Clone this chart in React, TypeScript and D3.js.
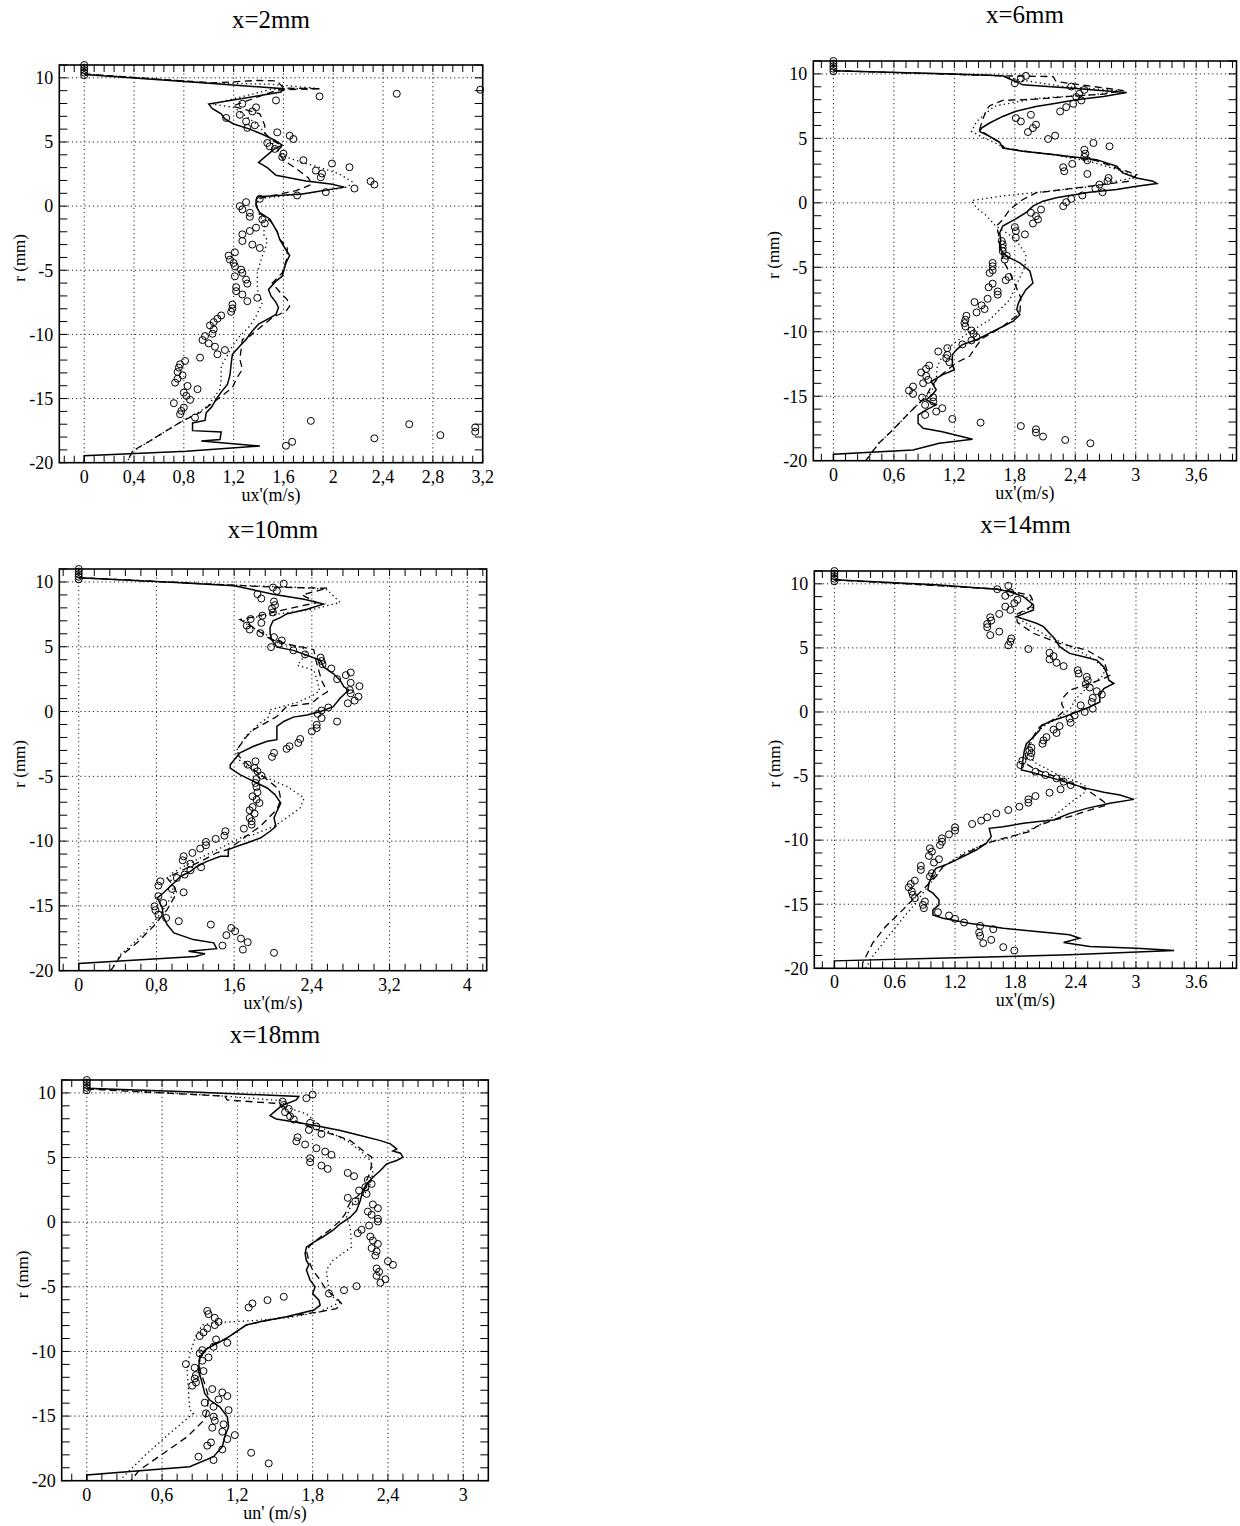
import React from "react";
import * as d3 from "d3";

type Pt = [number, number];

// ---------- x = 2 mm ----------
const P1_SOLID: Pt[] = [[0,10.25],[1.03,9.55],[1.6,9.15],[1.58,8.9],[1.0,7.95],[1.03,7.6],[1.1,7.2],[1.13,6.8],[1.2,6.4],[1.33,6.0],[1.43,5.6],[1.53,5.15],[1.59,4.75],[1.52,4.4],[1.4,3.4],[1.47,3.0],[1.54,2.4],[1.78,1.95],[1.98,1.72],[2.09,1.48],[1.75,0.95],[1.4,0.73],[1.38,0.5],[1.38,0],[1.41,-0.5],[1.49,-1.0],[1.52,-1.5],[1.55,-2.0],[1.57,-2.6],[1.62,-3.4],[1.65,-3.86],[1.62,-4.43],[1.59,-5.47],[1.54,-5.85],[1.48,-6.5],[1.5,-7.0],[1.54,-7.5],[1.56,-7.9],[1.54,-8.45],[1.47,-8.83],[1.4,-9.2],[1.35,-9.74],[1.3,-10.4],[1.25,-10.9],[1.19,-11.55],[1.18,-12.3],[1.17,-13.2],[1.15,-13.9],[1.1,-14.5],[1.06,-15.05],[1.02,-15.7],[0.98,-16.1],[0.97,-16.7],[0.87,-16.9],[0.87,-17.5],[1.1,-17.6],[1.09,-18.2],[0.94,-18.3],[1.41,-18.7],[0.82,-19.1],[0,-19.45],[0,-20]];
const P1_DASHED: Pt[] = [[0,10.3],[1.03,9.6],[1.4,9.8],[1.55,9.75],[1.6,9.2],[1.9,9.15],[1.55,9.05],[1.19,7.8],[1.41,7.2],[1.45,6.3],[1.45,5.7],[1.5,5.2],[1.59,4.7],[1.55,4.3],[1.6,3.6],[1.72,2.8],[1.8,2.2],[1.83,1.7],[1.7,1.2],[1.4,0.6],[1.38,0.2],[1.4,-0.5],[1.5,-1.2],[1.55,-2.0],[1.57,-2.6],[1.63,-3.2],[1.63,-4.0],[1.59,-5.2],[1.51,-6.0],[1.58,-6.8],[1.63,-7.28],[1.65,-7.8],[1.62,-8.19],[1.51,-8.7],[1.41,-9.48],[1.33,-10.13],[1.27,-10.39],[1.26,-11.17],[1.25,-11.94],[1.27,-12.72],[1.22,-13.5],[1.19,-14.15],[1.14,-14.53],[1.07,-15.05],[1.0,-15.57],[0.93,-16.09],[0.79,-16.74],[0.66,-17.51],[0.53,-18.29],[0.39,-19.07],[0.34,-20]];
const P1_DOTTED: Pt[] = [[0,10.3],[1.03,9.6],[1.5,9.5],[1.85,9.2],[1.5,9.1],[1.03,7.95],[1.2,7.7],[1.3,7.0],[1.4,6.3],[1.45,5.7],[1.5,5.1],[1.53,4.6],[1.6,3.9],[1.75,3.4],[1.9,3.0],[2.05,2.5],[2.15,1.9],[2.12,1.5],[1.8,1.0],[1.42,0.6],[1.38,0.2],[1.4,-0.5],[1.45,-1.5],[1.44,-2.2],[1.47,-2.62],[1.46,-3.13],[1.42,-4.17],[1.39,-5.2],[1.39,-6.5],[1.43,-7.54],[1.38,-8.58],[1.33,-9.35],[1.25,-10.13],[1.19,-10.9],[1.14,-11.81],[1.1,-12.46],[1.1,-13.5],[1.09,-14.27],[1.05,-14.8],[1.0,-15.5],[0.93,-16.0],[0.8,-16.7],[0.66,-17.5],[0.53,-18.3],[0.39,-19.1],[0.34,-20]];
const P1_CIRCLES: Pt[] = [[0,10.2],[0,10.4],[0,10.6],[0,10.8],[0,11.0],[1.89,8.55],[2.51,8.76],[3.18,9.07],[1.54,8.24],[1.27,7.98],[1.38,7.7],[1.35,7.38],[1.25,7.12],[1.14,6.87],[1.3,6.6],[1.37,6.3],[1.31,6.1],[1.55,5.75],[1.65,5.49],[1.68,5.23],[1.47,4.92],[1.49,4.66],[1.53,4.46],[1.6,4.09],[1.59,3.83],[1.76,3.58],[1.99,3.32],[2.13,3.03],[1.86,2.77],[1.91,2.54],[1.9,2.25],[2.3,1.94],[2.33,1.68],[2.17,1.37],[1.94,1.09],[1.71,0.83],[1.41,0.57],[1.3,0.31],[1.25,0],[1.27,-0.26],[1.33,-0.52],[1.33,-0.83],[1.43,-1.04],[1.45,-1.35],[1.38,-1.68],[1.33,-1.94],[1.27,-2.2],[1.27,-2.72],[1.35,-3.0],[1.41,-3.26],[1.21,-3.6],[1.16,-3.86],[1.17,-4.17],[1.2,-4.43],[1.21,-4.69],[1.26,-4.95],[1.27,-5.2],[1.21,-5.47],[1.3,-5.73],[1.31,-6.04],[1.22,-6.32],[1.22,-6.63],[1.27,-6.89],[1.39,-7.15],[1.31,-7.41],[1.19,-7.67],[1.19,-7.98],[1.18,-8.24],[1.1,-8.52],[1.07,-8.78],[1.04,-9.04],[1.01,-9.3],[1.04,-9.61],[1.03,-9.95],[0.97,-10.13],[0.95,-10.44],[1.0,-10.7],[1.05,-10.96],[1.13,-11.22],[1.07,-11.55],[0.93,-11.81],[0.81,-12.07],[0.77,-12.33],[0.76,-12.59],[0.75,-12.93],[0.79,-13.19],[0.75,-13.45],[0.73,-13.76],[0.83,-14.02],[0.91,-14.27],[0.8,-14.53],[0.82,-14.79],[0.85,-15.1],[0.72,-15.36],[0.8,-15.7],[0.78,-15.96],[0.77,-16.22],[0.89,-16.48],[1.82,-16.74],[2.61,-17.0],[3.14,-17.25],[3.14,-17.59],[2.86,-17.85],[2.33,-18.1],[1.67,-18.37],[1.62,-18.68]];

// ---------- x = 6 mm ----------
const P2_SOLID: Pt[] = [[0,10.25],[1.2,10.0],[1.68,9.85],[1.75,9.6],[1.88,9.15],[2.34,8.9],[2.68,8.7],[2.91,8.56],[2.68,8.25],[2.41,8.0],[2.21,7.73],[2.01,7.47],[1.81,7.1],[1.68,6.7],[1.55,6.19],[1.47,5.8],[1.45,5.54],[1.55,5.15],[1.65,4.7],[1.68,4.25],[1.88,4.0],[2.18,3.74],[2.61,3.35],[2.81,2.84],[2.87,2.32],[3.01,1.93],[3.17,1.68],[3.21,1.5],[3.01,1.29],[2.81,1.03],[2.54,0.82],[2.21,0.39],[2.08,0.13],[1.98,-0.26],[1.91,-0.77],[1.8,-1.29],[1.68,-1.8],[1.65,-2.32],[1.66,-2.83],[1.65,-3.37],[1.68,-3.89],[1.75,-4.27],[1.85,-4.66],[1.95,-5.31],[1.98,-6.22],[1.91,-6.74],[1.85,-7.51],[1.83,-7.9],[1.82,-8.29],[1.85,-8.68],[1.78,-9.2],[1.68,-9.59],[1.55,-10.1],[1.42,-10.62],[1.28,-11.0],[1.22,-11.4],[1.18,-11.79],[1.18,-12.56],[1.2,-12.95],[1.08,-13.34],[0.97,-13.86],[1.02,-14.5],[0.98,-14.9],[0.92,-15.28],[1.02,-15.67],[0.92,-16.06],[0.84,-16.45],[0.84,-17.1],[0.89,-17.49],[1.08,-17.75],[1.38,-18.34],[1.05,-18.65],[0.79,-19.17],[0,-19.5],[0,-20]];
const P2_DASHED: Pt[] = [[0,10.25],[1.68,9.85],[2.18,9.79],[2.21,9.41],[2.5,9.1],[2.88,8.71],[2.68,8.43],[2.34,8.25],[2.01,8.04],[1.68,7.94],[1.55,7.53],[1.52,7.22],[1.48,6.44],[1.45,5.67],[1.55,5.15],[1.65,4.7],[1.7,4.25],[1.9,4.0],[2.2,3.72],[2.6,3.3],[2.81,2.7],[3.01,2.19],[2.94,1.68],[2.68,1.42],[2.28,1.03],[2.01,0.77],[1.88,0.26],[1.75,-0.52],[1.68,-1.29],[1.62,-1.8],[1.64,-2.5],[1.66,-3.3],[1.68,-4.4],[1.75,-5.44],[1.81,-6.48],[1.86,-7.38],[1.85,-8.55],[1.68,-9.6],[1.48,-10.5],[1.42,-11.1],[1.35,-11.9],[1.22,-12.4],[1.05,-13.47],[0.97,-14.25],[0.92,-15.0],[0.75,-16.3],[0.59,-17.6],[0.45,-18.65],[0.32,-20]];
const P2_DOTTED: Pt[] = [[0,10.25],[1.68,9.85],[1.8,9.6],[2.3,9.0],[2.85,8.7],[2.6,8.4],[2.0,8.1],[1.6,7.5],[1.52,7.0],[1.42,6.3],[1.37,5.54],[1.5,5.0],[1.62,4.6],[1.7,4.25],[1.9,4.0],[2.2,3.7],[2.55,3.2],[2.85,2.5],[3.01,2.0],[2.5,1.2],[2.0,0.8],[1.7,0.55],[1.37,0.18],[1.42,-0.4],[1.52,-1.0],[1.61,-1.8],[1.75,-2.5],[1.81,-2.85],[1.91,-4.0],[1.9,-5.0],[1.82,-6.3],[1.75,-7.5],[1.65,-8.3],[1.55,-9.07],[1.42,-9.7],[1.28,-10.4],[1.15,-11.2],[1.08,-11.9],[1.03,-12.7],[1.02,-13.7],[0.98,-14.5],[0.92,-15.0],[0.75,-16.3],[0.59,-17.6],[0.45,-18.65],[0.32,-20]];
const P2_CIRCLES: Pt[] = [[0,10.2],[0,10.4],[0,10.6],[0,10.8],[0,11.0],[1.8,9.28],[1.91,9.85],[1.86,9.64],[2.36,9.02],[2.49,8.76],[2.44,8.45],[2.41,8.2],[2.46,7.94],[2.38,7.68],[2.31,7.42],[2.25,7.09],[1.96,6.83],[1.81,6.57],[1.86,6.31],[2.01,6.06],[1.98,5.8],[1.93,5.49],[2.2,5.21],[2.13,4.95],[2.58,4.64],[2.74,4.38],[2.49,4.12],[2.5,3.81],[2.49,3.56],[2.52,3.3],[2.37,3.02],[2.28,2.76],[2.29,2.45],[2.52,2.24],[2.73,1.93],[2.72,1.68],[2.64,1.42],[2.6,1.11],[2.67,0.82],[2.47,0.57],[2.36,0.31],[2.31,0.05],[2.28,-0.26],[2.06,-0.52],[1.96,-0.77],[2.01,-1.03],[2.03,-1.29],[1.98,-1.6],[1.8,-1.88],[1.81,-2.19],[1.9,-2.45],[1.81,-2.7],[1.67,-2.96],[1.68,-3.22],[1.68,-3.5],[1.68,-3.75],[1.72,-4.1],[1.7,-4.4],[1.58,-4.66],[1.58,-4.92],[1.58,-5.23],[1.55,-5.44],[1.74,-5.75],[1.71,-6.0],[1.58,-6.27],[1.54,-6.55],[1.63,-6.87],[1.63,-7.12],[1.53,-7.44],[1.4,-7.7],[1.47,-7.95],[1.5,-8.24],[1.42,-8.5],[1.32,-8.76],[1.31,-9.07],[1.3,-9.33],[1.31,-9.59],[1.37,-9.9],[1.39,-10.16],[1.42,-10.41],[1.37,-10.67],[1.28,-10.98],[1.13,-11.27],[1.04,-11.53],[1.13,-11.79],[1.12,-12.05],[1.15,-12.36],[0.95,-12.62],[0.92,-12.88],[0.87,-13.16],[0.92,-13.42],[0.94,-13.73],[0.89,-13.99],[0.79,-14.25],[0.75,-14.56],[0.79,-14.82],[0.88,-15.1],[0.99,-15.08],[0.99,-15.41],[0.91,-15.67],[1.08,-15.93],[1.02,-16.19],[0.91,-16.45],[1.18,-16.76],[1.46,-17.05],[1.86,-17.31],[2.01,-17.56],[2.01,-17.82],[2.08,-18.13],[2.3,-18.39],[2.55,-18.65]];

// ---------- x = 10 mm ----------
const P3_SOLID: Pt[] = [[0,10.33],[1.0,9.95],[1.6,9.7],[1.77,9.44],[2.0,9.06],[2.32,8.67],[2.52,8.29],[2.35,7.9],[2.14,7.53],[2.08,7.27],[2.0,7.0],[1.97,6.5],[1.97,6.0],[1.99,5.48],[2.04,4.97],[2.21,4.72],[2.35,4.34],[2.49,3.95],[2.52,3.44],[2.62,2.93],[2.69,2.42],[2.73,1.91],[2.78,1.66],[2.69,1.02],[2.62,0.38],[2.49,0],[2.35,-0.26],[2.21,-0.43],[2.11,-0.77],[2.04,-1.15],[2.04,-2.17],[1.94,-2.3],[1.8,-2.68],[1.66,-3.19],[1.56,-4.1],[1.56,-4.36],[1.66,-4.87],[1.8,-5.39],[1.94,-5.9],[2.02,-6.41],[2.08,-7.06],[2.04,-7.7],[2.01,-8.21],[2.03,-8.86],[1.97,-9.24],[1.87,-9.76],[1.73,-10.14],[1.63,-10.4],[1.54,-10.66],[1.54,-11.17],[1.46,-11.17],[1.32,-11.56],[1.22,-11.94],[1.15,-12.33],[1.05,-12.71],[0.98,-13.23],[0.87,-14.0],[0.81,-14.38],[0.86,-15.15],[0.87,-15.8],[0.91,-16.44],[0.98,-17.08],[1.18,-17.6],[1.39,-17.85],[1.42,-18.3],[1.13,-18.5],[1.3,-18.7],[1.2,-18.9],[0,-19.45],[0,-20]];
const P3_DASHED: Pt[] = [[0,10.33],[1.6,9.75],[2.0,9.6],[2.56,9.52],[2.3,9.0],[2.45,8.4],[2.2,8.0],[1.8,7.3],[1.66,7.1],[1.77,6.63],[1.87,6.12],[1.97,5.61],[2.14,5.23],[2.42,4.77],[2.44,4.0],[2.47,3.2],[2.5,2.4],[2.56,1.53],[2.47,1.1],[2.4,0.65],[2.14,0.38],[2.04,-0.38],[1.8,-1.4],[1.73,-1.9],[1.63,-2.93],[1.65,-3.46],[1.8,-4.49],[1.94,-5.26],[2.06,-6.0],[2.08,-6.8],[2.04,-7.57],[1.97,-8.08],[1.87,-8.86],[1.77,-9.37],[1.63,-10.14],[1.53,-10.66],[1.42,-10.9],[1.29,-11.43],[1.15,-11.94],[1.01,-12.46],[0.91,-12.84],[0.98,-13.5],[1.01,-14.0],[0.91,-15.28],[0.77,-16.57],[0.6,-17.85],[0.43,-18.88],[0.33,-20]];
const P3_DOTTED: Pt[] = [[0,10.33],[1.6,9.75],[2.2,9.6],[2.55,9.45],[2.69,8.42],[2.42,7.9],[1.8,7.27],[1.7,7.0],[1.75,6.6],[1.9,6.1],[1.97,5.7],[2.06,5.25],[2.3,4.95],[2.35,4.5],[2.25,3.57],[2.42,3.19],[2.45,2.5],[2.48,1.6],[2.4,1.2],[2.25,0.7],[1.97,0.13],[1.96,-0.38],[1.85,-1.0],[1.72,-1.9],[1.63,-2.94],[1.61,-3.46],[1.73,-4.23],[1.9,-5.0],[2.14,-5.77],[2.32,-6.67],[2.28,-7.44],[2.14,-8.21],[2.01,-8.86],[1.8,-9.5],[1.7,-9.63],[1.46,-10.53],[1.32,-11.04],[1.18,-11.56],[1.05,-12.07],[0.94,-12.58],[0.96,-13.48],[0.98,-14.0],[0.87,-15.28],[0.74,-16.57],[0.57,-17.85],[0.43,-18.75],[0.33,-20]];
const P3_CIRCLES: Pt[] = [[0,10.2],[0,10.4],[0,10.6],[0,10.8],[0,11.0],[2.11,9.87],[2.0,9.57],[2.04,9.31],[1.84,9.06],[1.88,8.72],[2.01,8.49],[2.02,8.21],[1.99,7.96],[2.0,7.65],[1.89,7.4],[1.77,7.14],[1.88,6.84],[1.73,6.63],[1.76,6.33],[1.87,6.05],[2.01,5.74],[2.09,5.48],[2.06,5.23],[1.98,4.97],[2.21,4.72],[2.33,4.41],[2.49,4.16],[2.5,3.9],[2.51,3.65],[2.6,3.32],[2.8,3.01],[2.75,2.81],[2.66,2.5],[2.8,2.22],[2.89,1.96],[2.79,1.66],[2.8,1.4],[2.88,1.15],[2.84,0.84],[2.77,0.64],[2.57,0.31],[2.5,0.08],[2.46,-0.18],[2.5,-0.51],[2.66,-0.77],[2.45,-1.02],[2.45,-1.28],[2.4,-1.53],[2.28,-2.12],[2.26,-2.42],[2.17,-2.68],[2.14,-2.88],[2.01,-3.19],[1.99,-3.5],[1.82,-3.84],[1.74,-4.1],[1.81,-4.36],[1.84,-4.61],[1.88,-4.95],[1.83,-5.21],[1.82,-5.51],[1.83,-5.82],[1.84,-6.23],[1.79,-6.54],[1.83,-6.8],[1.86,-7.06],[1.79,-7.37],[1.76,-7.62],[1.81,-7.88],[1.76,-8.21],[1.78,-8.47],[1.78,-8.73],[1.7,-9.04],[1.51,-9.24],[1.5,-9.58],[1.41,-9.83],[1.31,-10.06],[1.31,-10.32],[1.25,-10.58],[1.17,-10.91],[1.08,-11.17],[1.07,-11.48],[1.15,-11.74],[1.26,-12.02],[1.15,-12.25],[1.09,-12.58],[1.01,-12.84],[0.84,-13.1],[0.82,-13.43],[0.96,-13.69],[1.08,-13.95],[0.82,-14.25],[0.87,-14.77],[0.78,-15.03],[0.79,-15.33],[0.82,-15.67],[0.9,-15.93],[1.03,-16.18],[1.36,-16.44],[1.57,-16.7],[1.61,-16.95],[1.52,-17.26],[1.67,-17.52],[1.74,-17.8],[1.48,-18.06],[1.69,-18.37],[2.01,-18.62]];

// ---------- x = 14 mm ----------
const P4_SOLID: Pt[] = [[0,10.31],[1.01,9.92],[1.61,9.58],[1.74,9.4],[1.88,9.0],[1.98,8.36],[1.98,7.96],[1.81,7.44],[2.01,6.92],[2.08,6.66],[2.14,6.14],[2.19,5.74],[2.24,5.09],[2.34,4.57],[2.48,4.31],[2.61,4.05],[2.68,3.52],[2.71,3.0],[2.73,2.48],[2.78,2.22],[2.68,1.83],[2.64,1.31],[2.64,0.78],[2.54,0.39],[2.41,0],[2.28,-0.39],[2.18,-0.65],[2.06,-1.04],[2.04,-1.44],[1.98,-1.96],[1.91,-2.48],[1.89,-3.0],[1.88,-3.49],[1.86,-4.53],[1.94,-4.66],[2.18,-5.18],[2.34,-5.57],[2.51,-5.96],[2.68,-6.27],[2.84,-6.48],[2.98,-6.82],[2.74,-7.13],[2.51,-7.52],[2.34,-7.91],[2.18,-8.43],[2.01,-8.56],[1.88,-8.69],[1.68,-8.95],[1.54,-9.08],[1.56,-9.73],[1.51,-10.25],[1.41,-10.77],[1.28,-11.29],[1.14,-11.81],[1.01,-12.2],[0.98,-12.58],[0.94,-13.36],[0.93,-13.88],[0.98,-14.14],[1.04,-14.66],[1.04,-15.05],[0.98,-15.44],[0.98,-15.83],[1.08,-16.09],[1.34,-16.48],[1.68,-16.87],[2.01,-17.13],[2.34,-17.39],[2.44,-17.65],[2.28,-17.99],[2.54,-18.3],[3.01,-18.43],[3.38,-18.61],[2.34,-18.95],[1.01,-19.21],[0,-19.42],[0,-20]];
const P4_DASHED: Pt[] = [[0,10.31],[1.61,9.6],[1.74,9.45],[1.95,9.1],[1.98,8.6],[1.95,8.2],[1.81,7.6],[1.82,7.0],[1.98,6.14],[2.24,5.35],[2.51,4.83],[2.68,4.05],[2.71,3.26],[2.74,2.87],[2.68,2.61],[2.54,2.22],[2.34,1.7],[2.28,1.17],[2.26,0.65],[2.29,0.13],[2.2,-0.5],[2.04,-1.18],[1.98,-1.9],[1.93,-2.6],[1.9,-3.3],[1.92,-4.1],[1.98,-4.4],[2.11,-4.79],[2.28,-5.31],[2.44,-5.83],[2.54,-6.22],[2.68,-7.0],[2.71,-7.26],[2.54,-7.65],[2.34,-8.17],[2.18,-8.43],[2.01,-8.95],[1.94,-9.34],[1.81,-9.6],[1.68,-9.86],[1.51,-10.25],[1.31,-11.03],[1.14,-11.81],[1.08,-12.07],[1.01,-12.84],[0.91,-13.62],[0.81,-14.4],[0.68,-15.44],[0.51,-16.74],[0.38,-18.04],[0.28,-19.6],[0.28,-20]];
const P4_DOTTED: Pt[] = [[0,10.31],[1.61,9.6],[1.8,9.3],[1.95,8.8],[1.98,8.2],[1.85,7.7],[1.85,7.2],[1.95,6.7],[2.1,6.0],[2.3,5.3],[2.54,4.31],[2.68,3.5],[2.68,2.9],[2.6,2.4],[2.5,1.8],[2.4,1.0],[2.35,0.3],[2.25,-0.4],[2.1,-1.0],[2.0,-1.7],[1.95,-2.5],[1.95,-3.2],[1.98,-3.9],[2.2,-4.8],[2.41,-5.44],[2.51,-5.83],[2.48,-6.35],[2.34,-7.13],[2.18,-8.17],[2.01,-8.95],[1.78,-9.73],[1.51,-10.25],[1.28,-11.03],[1.08,-12.07],[0.98,-13.1],[0.88,-14.14],[0.78,-15.18],[0.64,-16.48],[0.51,-17.78],[0.38,-19.08],[0.31,-20]];
const P4_CIRCLES: Pt[] = [[0,10.2],[0,10.4],[0,10.6],[0,10.8],[0,11.0],[1.73,9.84],[1.62,9.58],[1.75,9.32],[1.7,9.06],[1.82,8.75],[1.79,8.49],[1.7,8.22],[1.75,7.96],[1.64,7.65],[1.55,7.39],[1.56,7.13],[1.52,6.87],[1.52,6.61],[1.64,6.27],[1.55,6.0],[1.76,5.74],[1.75,5.48],[1.73,5.2],[1.93,4.91],[2.14,4.62],[2.18,4.36],[2.14,4.1],[2.21,3.84],[2.28,3.58],[2.42,3.26],[2.43,3.0],[2.51,2.74],[2.52,2.48],[2.5,2.17],[2.54,1.91],[2.61,1.62],[2.66,1.36],[2.57,1.1],[2.56,0.78],[2.45,0.52],[2.57,0.26],[2.49,0],[2.39,-0.26],[2.34,-0.52],[2.35,-0.84],[2.24,-1.1],[2.18,-1.38],[2.21,-1.64],[2.11,-1.96],[2.08,-2.22],[2.07,-2.48],[1.96,-2.79],[1.94,-3.0],[1.96,-3.2],[1.95,-3.49],[1.87,-3.8],[1.85,-4.14],[2.0,-4.66],[2.1,-4.92],[2.21,-5.18],[2.28,-5.44],[2.35,-5.7],[2.25,-6.04],[2.14,-6.3],[2.0,-6.56],[1.93,-6.82],[1.93,-7.08],[1.84,-7.39],[1.73,-7.65],[1.61,-7.91],[1.52,-8.22],[1.46,-8.48],[1.37,-8.74],[1.2,-9.0],[1.2,-9.26],[1.14,-9.55],[1.07,-9.86],[1.07,-10.12],[1.05,-10.38],[0.95,-10.64],[0.97,-10.9],[0.94,-11.23],[1.04,-11.49],[0.99,-11.75],[0.86,-12.01],[0.86,-12.32],[0.97,-12.58],[0.95,-12.84],[0.8,-13.16],[0.76,-13.42],[0.74,-13.68],[0.77,-14.01],[0.78,-14.27],[0.8,-14.53],[0.9,-14.79],[0.88,-15.05],[0.89,-15.31],[1.03,-15.62],[1.14,-15.88],[1.2,-16.14],[1.29,-16.43],[1.45,-16.69],[1.58,-16.95],[1.44,-17.21],[1.45,-17.47],[1.56,-17.78],[1.48,-18.04],[1.68,-18.35],[1.79,-18.61]];

// ---------- x = 18 mm ----------
const P5_SOLID: Pt[] = [[0,10.36],[0.8,10.1],[1.69,9.72],[1.67,9.46],[1.55,9.0],[1.49,8.5],[1.46,8.25],[1.51,7.99],[1.67,7.73],[1.86,7.4],[2.02,7.09],[2.18,6.7],[2.34,6.31],[2.42,6.06],[2.47,5.67],[2.44,5.5],[2.5,5.34],[2.52,5.03],[2.47,4.77],[2.39,4.51],[2.34,4.0],[2.28,3.48],[2.23,2.96],[2.2,2.45],[2.18,1.68],[2.15,0.9],[2.1,0.39],[2.02,-0.13],[1.96,-0.64],[1.88,-1.16],[1.81,-1.55],[1.75,-1.93],[1.74,-2.45],[1.75,-2.96],[1.77,-3.3],[1.75,-3.71],[1.78,-4.48],[1.82,-5.0],[1.8,-5.52],[1.85,-6.03],[1.86,-6.42],[1.81,-6.8],[1.59,-7.32],[1.38,-7.71],[1.27,-7.96],[1.19,-8.48],[1.11,-9.0],[1.04,-9.38],[0.96,-9.77],[0.9,-10.41],[0.89,-11.44],[0.92,-12.47],[0.94,-13.25],[0.98,-13.76],[1.06,-14.28],[1.12,-15.05],[1.13,-15.82],[1.1,-16.6],[1.08,-17.37],[1.01,-18.14],[0.82,-18.92],[0,-19.56],[0,-20]];
const P5_DASHED: Pt[] = [[0,10.3],[1.1,9.75],[1.12,9.45],[1.5,9.2],[1.58,8.9],[1.62,8.4],[1.65,7.86],[1.78,7.35],[1.86,7.09],[1.99,6.7],[2.1,6.31],[2.15,5.93],[2.2,5.54],[2.27,5.03],[2.27,4.51],[2.26,3.9],[2.23,3.22],[2.23,2.71],[2.15,1.93],[2.1,1.55],[2.08,1.16],[2.06,0.64],[2.02,0.13],[1.95,-0.5],[1.86,-1.16],[1.78,-1.8],[1.75,-2.19],[1.77,-3.0],[1.8,-3.71],[1.86,-4.48],[1.91,-5.26],[1.98,-5.77],[2.03,-6.29],[1.99,-6.68],[1.86,-6.93],[1.59,-7.32],[1.38,-7.71],[1.27,-7.96],[1.19,-8.48],[1.11,-9.0],[1.0,-9.5],[0.9,-10.2],[0.9,-11.4],[0.94,-12.5],[0.97,-13.5],[0.96,-14.5],[0.94,-15.26],[0.8,-16.6],[0.61,-17.89],[0.42,-19.17],[0.35,-20]];
const P5_DOTTED: Pt[] = [[0,10.36],[1.1,9.75],[1.55,9.4],[1.59,8.89],[1.75,8.38],[1.81,7.86],[1.91,7.09],[2.07,6.31],[2.18,5.54],[2.26,4.77],[2.28,4.0],[2.27,3.22],[2.24,2.45],[2.15,1.7],[2.1,1.16],[2.07,0.39],[2.1,-0.39],[2.11,-1.93],[1.96,-2.96],[1.91,-3.71],[1.92,-4.6],[1.93,-5.2],[1.95,-5.7],[2.02,-6.2],[1.85,-6.95],[1.6,-7.4],[1.35,-7.6],[1.0,-7.8],[0.92,-7.95],[0.87,-8.8],[0.82,-10.2],[0.8,-11.5],[0.81,-13.0],[0.82,-14.5],[0.85,-14.79],[0.66,-16.34],[0.48,-17.89],[0.29,-19.7],[0.27,-20]];
const P5_CIRCLES: Pt[] = [[0,10.2],[0,10.4],[0,10.6],[0,10.8],[0,11.0],[1.8,9.87],[1.75,9.59],[1.56,9.33],[1.57,9.07],[1.61,8.76],[1.58,8.51],[1.62,8.2],[1.65,7.94],[1.78,7.68],[1.83,7.4],[1.77,7.14],[1.87,6.83],[1.68,6.57],[1.67,6.26],[1.74,6.01],[1.83,5.72],[1.9,5.46],[1.95,5.21],[1.78,4.95],[1.78,4.64],[1.87,4.38],[1.92,4.12],[2.08,3.81],[2.13,3.56],[2.24,3.27],[2.27,2.96],[2.22,2.71],[2.17,2.45],[2.23,2.19],[2.08,1.88],[2.14,1.62],[2.28,1.37],[2.32,1.08],[2.24,0.82],[2.27,0.57],[2.32,0.26],[2.32,0.05],[2.25,-0.26],[2.19,-0.59],[2.16,-0.85],[2.26,-1.11],[2.28,-1.42],[2.32,-1.68],[2.27,-2.01],[2.31,-2.27],[2.3,-2.58],[2.4,-3.02],[2.44,-3.3],[2.31,-3.58],[2.33,-3.84],[2.31,-4.15],[2.38,-4.41],[2.34,-4.69],[2.15,-4.95],[2.05,-5.26],[1.93,-5.52],[1.57,-5.77],[1.44,-6.03],[1.32,-6.29],[1.29,-6.6],[0.96,-6.86],[0.97,-7.11],[1.02,-7.4],[1.05,-7.71],[1.02,-7.96],[0.96,-8.22],[0.93,-8.53],[0.9,-8.81],[1.03,-9.07],[1.12,-9.33],[1.01,-9.64],[0.92,-9.9],[0.9,-10.15],[0.97,-10.46],[0.92,-10.72],[0.79,-10.98],[0.86,-11.26],[0.93,-11.52],[0.87,-11.83],[0.86,-12.09],[0.87,-12.4],[0.84,-12.65],[1.0,-12.91],[1.08,-13.17],[1.12,-13.45],[1.05,-13.71],[0.94,-13.97],[1.01,-14.28],[1.13,-14.54],[0.95,-14.79],[1.01,-15.05],[1.02,-15.36],[1.09,-15.64],[1.0,-15.9],[1.08,-16.21],[1.18,-16.47],[1.12,-16.78],[0.99,-17.04],[0.96,-17.29],[1.08,-17.58],[1.31,-17.84],[0.89,-18.14],[1.01,-18.4],[1.45,-18.66]];

// ---------- axes ----------
const Y_TICKS = [-20, -15, -10, -5, 0, 5, 10];
const Y_TICK_LABELS = ["-20", "-15", "-10", "-5", "0", "5", "10"];
const P1_X_TICKS = [0, 0.4, 0.8, 1.2, 1.6, 2, 2.4, 2.8, 3.2];
const P1_X_LABELS = ["0", "0,4", "0,8", "1,2", "1,6", "2", "2,4", "2,8", "3,2"];
const P2_X_TICKS = [0, 0.6, 1.2, 1.8, 2.4, 3, 3.6];
const P2_X_LABELS = ["0", "0,6", "1,2", "1,8", "2,4", "3", "3,6"];
const P3_X_TICKS = [0, 0.8, 1.6, 2.4, 3.2, 4];
const P3_X_LABELS = ["0", "0,8", "1,6", "2,4", "3,2", "4"];
const P4_X_TICKS = [0, 0.6, 1.2, 1.8, 2.4, 3, 3.6];
const P4_X_LABELS = ["0", "0.6", "1.2", "1.8", "2.4", "3", "3.6"];
const P5_X_TICKS = [0, 0.6, 1.2, 1.8, 2.4, 3];
const P5_X_LABELS = ["0", "0,6", "1,2", "1,8", "2,4", "3"];
const TITLES = ["x=2mm", "x=6mm", "x=10mm", "x=14mm", "x=18mm"];
const X_AXIS_TITLES = ["ux'(m/s)", "ux'(m/s)", "ux'(m/s)", "ux'(m/s)", "un' (m/s)"];
const Y_AXIS_TITLE = "r (mm)";

const FONT = "'Liberation Serif', 'Times New Roman', serif";

const PANELS = [
  { title: TITLES[0], xLabel: X_AXIS_TITLES[0], xDomain: [-0.2, 3.2], xTicks: P1_X_TICKS, xLabels: P1_X_LABELS, solid: P1_SOLID, dashed: P1_DASHED, dotted: P1_DOTTED, circles: P1_CIRCLES, box: { l: 59.3, t: 65, r: 482.7, b: 462.7 }, titleY: 28 },
  { title: TITLES[1], xLabel: X_AXIS_TITLES[1], xDomain: [-0.2, 4.0], xTicks: P2_X_TICKS, xLabels: P2_X_LABELS, solid: P2_SOLID, dashed: P2_DASHED, dotted: P2_DOTTED, circles: P2_CIRCLES, box: { l: 813.3, t: 61, r: 1236.5, b: 460.7 }, titleY: 23 },
  { title: TITLES[2], xLabel: X_AXIS_TITLES[2], xDomain: [-0.2, 4.2], xTicks: P3_X_TICKS, xLabels: P3_X_LABELS, solid: P3_SOLID, dashed: P3_DASHED, dotted: P3_DOTTED, circles: P3_CIRCLES, box: { l: 59.3, t: 569, r: 486.7, b: 970.7 }, titleY: 538 },
  { title: TITLES[3], xLabel: X_AXIS_TITLES[3], xDomain: [-0.2, 4.0], xTicks: P4_X_TICKS, xLabels: P4_X_LABELS, solid: P4_SOLID, dashed: P4_DASHED, dotted: P4_DOTTED, circles: P4_CIRCLES, box: { l: 814.3, t: 571, r: 1236.5, b: 968.3 }, titleY: 533 },
  { title: TITLES[4], xLabel: X_AXIS_TITLES[4], xDomain: [-0.2, 3.2], xTicks: P5_X_TICKS, xLabels: P5_X_LABELS, solid: P5_SOLID, dashed: P5_DASHED, dotted: P5_DOTTED, circles: P5_CIRCLES, box: { l: 61.7, t: 1080, r: 488.3, b: 1480.7 }, titleY: 1043 },
];

function minorValues(d0: number, d1: number, step: number) {
  const out: number[] = [];
  const i0 = Math.ceil(d0 / step - 1e-6);
  const i1 = Math.floor(d1 / step + 1e-6);
  for (let i = i0; i <= i1; i++) out.push(+(i * step).toFixed(6));
  return out;
}

function Panel({ p, idx }: { p: any; idx: number }) {
  const { l, t, r, b } = p.box;
  const x = d3.scaleLinear().domain(p.xDomain).range([l, r]);
  const y = d3.scaleLinear().domain([-20, 11]).range([b, t]);
  const line = d3.line<Pt>().x((d) => x(d[0])).y((d) => y(d[1]));
  const majorStep = p.xTicks[1] - p.xTicks[0];
  const xMinor = minorValues(p.xDomain[0], p.xDomain[1], majorStep / 5);
  const yMinor = minorValues(-20, 11, 1);
  const TL = 7;
  const cx = (l + r) / 2;
  const cy = (t + b) / 2;
  const clipId = `clip${idx}`;
  return (
    <g>
      <defs>
        <clipPath id={clipId}>
          <rect x={l} y={t} width={r - l} height={b - t} />
        </clipPath>
      </defs>
      {/* grid */}
      {p.xTicks.map((v: number) => (
        <line key={`gx${v}`} x1={x(v)} x2={x(v)} y1={t} y2={b} stroke="#222" strokeWidth={1} strokeDasharray="1.2,3" />
      ))}
      {Y_TICKS.filter((v) => v > -20).map((v) => (
        <line key={`gy${v}`} x1={l} x2={r} y1={y(v)} y2={y(v)} stroke="#222" strokeWidth={1} strokeDasharray="1.2,3" />
      ))}
      {/* ticks */}
      {xMinor.map((v) => (
        <g key={`tx${v}`}>
          <line x1={x(v)} x2={x(v)} y1={b} y2={b - TL} stroke="#000" strokeWidth={1} />
          <line x1={x(v)} x2={x(v)} y1={t} y2={t + TL} stroke="#000" strokeWidth={1} />
        </g>
      ))}
      {yMinor.map((v) => (
        <g key={`ty${v}`}>
          <line x1={l} x2={l + TL + 1} y1={y(v)} y2={y(v)} stroke="#000" strokeWidth={1} />
          <line x1={r} x2={r - TL - 1} y1={y(v)} y2={y(v)} stroke="#000" strokeWidth={1} />
        </g>
      ))}
      {/* curves */}
      <g clipPath={`url(#${clipId})`}>
        <path d={line(p.dotted) || ""} fill="none" stroke="#000" strokeWidth={1.3} strokeDasharray="1.3,3.2" />
        <path d={line(p.dashed) || ""} fill="none" stroke="#000" strokeWidth={1.3} strokeDasharray="7,4.5" />
        <path d={line(p.solid) || ""} fill="none" stroke="#000" strokeWidth={1.5} />
      </g>
      {p.circles.map((d: Pt, i: number) => (
        <circle key={`c${i}`} cx={x(d[0])} cy={y(d[1])} r={3.5} fill="none" stroke="#000" strokeWidth={1} />
      ))}
      {/* frame */}
      <rect x={l} y={t} width={r - l} height={b - t} fill="none" stroke="#000" strokeWidth={1.6} />
      {/* tick labels */}
      {p.xTicks.map((v: number, i: number) => (
        <text key={`lx${v}`} x={x(v)} y={b + 20} textAnchor="middle" fontFamily={FONT} fontSize={18}>
          {p.xLabels[i]}
        </text>
      ))}
      {Y_TICKS.map((v, i) => (
        <text key={`ly${v}`} x={l - 6} y={y(v)} dy="0.35em" textAnchor="end" fontFamily={FONT} fontSize={18}>
          {Y_TICK_LABELS[i]}
        </text>
      ))}
      <text x={cx} y={b + 38} textAnchor="middle" fontFamily={FONT} fontSize={18}>{p.xLabel}</text>
      <text transform={`translate(${l - 40},${cy - 6}) rotate(-90)`} textAnchor="middle" dy="0.35em" fontFamily={FONT} fontSize={17}>{Y_AXIS_TITLE}</text>
      <text x={cx} y={p.titleY} textAnchor="middle" fontFamily={FONT} fontSize={25}>{p.title}</text>
    </g>
  );
}

export default function App() {
  return (
    <svg width={1240} height={1526} style={{ position: "absolute", left: 0, top: 0, background: "#fff" }}>
      <rect x={0} y={0} width={1240} height={1526} fill="#fff" />
      {PANELS.map((p, i) => (
        <Panel key={i} p={p} idx={i} />
      ))}
    </svg>
  );
}
